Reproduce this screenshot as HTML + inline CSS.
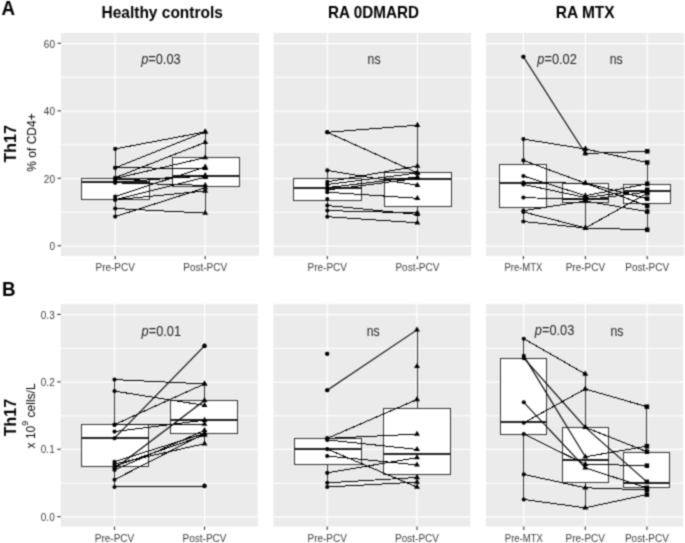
<!DOCTYPE html>
<html><head><meta charset="utf-8"><style>
html,body{margin:0;padding:0;background:#fff;width:685px;height:543px;overflow:hidden}
</style></head><body>
<svg width="685" height="543" viewBox="0 0 685 543" style="display:block">
<defs><filter id="bl" x="0" y="0" width="685" height="543" filterUnits="userSpaceOnUse" color-interpolation-filters="sRGB"><feConvolveMatrix order="3" kernelMatrix="0.0400 0.1200 0.0400 0.1200 0.3600 0.1200 0.0400 0.1200 0.0400" edgeMode="duplicate" preserveAlpha="true"/></filter></defs><g filter="url(#bl)">
<rect x="0" y="0" width="685" height="543" fill="#fff"/>
<rect x="61.0" y="33.0" width="197.90" height="222.90" fill="#EBEBEB"/>
<line x1="61.0" x2="258.9" y1="212.25" y2="212.25" stroke="#fff" stroke-width="1.0"/>
<line x1="61.0" x2="258.9" y1="144.75" y2="144.75" stroke="#fff" stroke-width="1.0"/>
<line x1="61.0" x2="258.9" y1="77.25" y2="77.25" stroke="#fff" stroke-width="1.0"/>
<line x1="61.0" x2="258.9" y1="246.00" y2="246.00" stroke="#fff" stroke-width="1.25"/>
<line x1="61.0" x2="258.9" y1="178.50" y2="178.50" stroke="#fff" stroke-width="1.25"/>
<line x1="61.0" x2="258.9" y1="111.00" y2="111.00" stroke="#fff" stroke-width="1.25"/>
<line x1="61.0" x2="258.9" y1="43.50" y2="43.50" stroke="#fff" stroke-width="1.25"/>
<line x1="115.2" x2="115.2" y1="33.0" y2="255.9" stroke="#fff" stroke-width="1.25"/>
<line x1="205.2" x2="205.2" y1="33.0" y2="255.9" stroke="#fff" stroke-width="1.25"/>
<line x1="115.2" x2="115.2" y1="255.9" y2="259.20" stroke="#333" stroke-width="1.1"/>
<line x1="205.2" x2="205.2" y1="255.9" y2="259.20" stroke="#333" stroke-width="1.1"/>
<text x="115.2" y="271.30" text-anchor="middle" font-family='"Liberation Sans", sans-serif' font-size="10" fill="#3C3C3C">Pre-PCV</text>
<text x="205.2" y="271.30" text-anchor="middle" font-family='"Liberation Sans", sans-serif' font-size="10" fill="#3C3C3C">Post-PCV</text>
<rect x="273.6" y="33.0" width="197.50" height="222.90" fill="#EBEBEB"/>
<line x1="273.6" x2="471.1" y1="212.25" y2="212.25" stroke="#fff" stroke-width="1.0"/>
<line x1="273.6" x2="471.1" y1="144.75" y2="144.75" stroke="#fff" stroke-width="1.0"/>
<line x1="273.6" x2="471.1" y1="77.25" y2="77.25" stroke="#fff" stroke-width="1.0"/>
<line x1="273.6" x2="471.1" y1="246.00" y2="246.00" stroke="#fff" stroke-width="1.25"/>
<line x1="273.6" x2="471.1" y1="178.50" y2="178.50" stroke="#fff" stroke-width="1.25"/>
<line x1="273.6" x2="471.1" y1="111.00" y2="111.00" stroke="#fff" stroke-width="1.25"/>
<line x1="273.6" x2="471.1" y1="43.50" y2="43.50" stroke="#fff" stroke-width="1.25"/>
<line x1="327.3" x2="327.3" y1="33.0" y2="255.9" stroke="#fff" stroke-width="1.25"/>
<line x1="417.4" x2="417.4" y1="33.0" y2="255.9" stroke="#fff" stroke-width="1.25"/>
<line x1="327.3" x2="327.3" y1="255.9" y2="259.20" stroke="#333" stroke-width="1.1"/>
<line x1="417.4" x2="417.4" y1="255.9" y2="259.20" stroke="#333" stroke-width="1.1"/>
<text x="327.3" y="271.30" text-anchor="middle" font-family='"Liberation Sans", sans-serif' font-size="10" fill="#3C3C3C">Pre-PCV</text>
<text x="417.4" y="271.30" text-anchor="middle" font-family='"Liberation Sans", sans-serif' font-size="10" fill="#3C3C3C">Post-PCV</text>
<rect x="485.9" y="33.0" width="198.20" height="222.90" fill="#EBEBEB"/>
<line x1="485.9" x2="684.1" y1="212.25" y2="212.25" stroke="#fff" stroke-width="1.0"/>
<line x1="485.9" x2="684.1" y1="144.75" y2="144.75" stroke="#fff" stroke-width="1.0"/>
<line x1="485.9" x2="684.1" y1="77.25" y2="77.25" stroke="#fff" stroke-width="1.0"/>
<line x1="485.9" x2="684.1" y1="246.00" y2="246.00" stroke="#fff" stroke-width="1.25"/>
<line x1="485.9" x2="684.1" y1="178.50" y2="178.50" stroke="#fff" stroke-width="1.25"/>
<line x1="485.9" x2="684.1" y1="111.00" y2="111.00" stroke="#fff" stroke-width="1.25"/>
<line x1="485.9" x2="684.1" y1="43.50" y2="43.50" stroke="#fff" stroke-width="1.25"/>
<line x1="523.4" x2="523.4" y1="33.0" y2="255.9" stroke="#fff" stroke-width="1.25"/>
<line x1="585.4" x2="585.4" y1="33.0" y2="255.9" stroke="#fff" stroke-width="1.25"/>
<line x1="647.2" x2="647.2" y1="33.0" y2="255.9" stroke="#fff" stroke-width="1.25"/>
<line x1="523.4" x2="523.4" y1="255.9" y2="259.20" stroke="#333" stroke-width="1.1"/>
<line x1="585.4" x2="585.4" y1="255.9" y2="259.20" stroke="#333" stroke-width="1.1"/>
<line x1="647.2" x2="647.2" y1="255.9" y2="259.20" stroke="#333" stroke-width="1.1"/>
<text x="523.4" y="271.30" text-anchor="middle" font-family='"Liberation Sans", sans-serif' font-size="10" fill="#3C3C3C" textLength="38.0" lengthAdjust="spacingAndGlyphs">Pre-MTX</text>
<text x="585.4" y="271.30" text-anchor="middle" font-family='"Liberation Sans", sans-serif' font-size="10" fill="#3C3C3C">Pre-PCV</text>
<text x="647.2" y="271.30" text-anchor="middle" font-family='"Liberation Sans", sans-serif' font-size="10" fill="#3C3C3C">Post-PCV</text>
<line x1="57.50" x2="61.0" y1="245.80" y2="245.80" stroke="#333" stroke-width="1.1"/>
<text transform="translate(55.00,250.00) scale(1,1.06)" text-anchor="end" font-family='"Liberation Sans", sans-serif' font-size="10" fill="#3C3C3C">0</text>
<line x1="57.50" x2="61.0" y1="178.30" y2="178.30" stroke="#333" stroke-width="1.1"/>
<text transform="translate(55.00,182.50) scale(1,1.06)" text-anchor="end" font-family='"Liberation Sans", sans-serif' font-size="10" fill="#3C3C3C">20</text>
<line x1="57.50" x2="61.0" y1="110.80" y2="110.80" stroke="#333" stroke-width="1.1"/>
<text transform="translate(55.00,115.00) scale(1,1.06)" text-anchor="end" font-family='"Liberation Sans", sans-serif' font-size="10" fill="#3C3C3C">40</text>
<line x1="57.50" x2="61.0" y1="43.30" y2="43.30" stroke="#333" stroke-width="1.1"/>
<text transform="translate(55.00,47.50) scale(1,1.06)" text-anchor="end" font-family='"Liberation Sans", sans-serif' font-size="10" fill="#3C3C3C">60</text>
<rect x="60.7" y="304.1" width="196.90" height="222.50" fill="#EBEBEB"/>
<line x1="60.7" x2="257.6" y1="483.19" y2="483.19" stroke="#fff" stroke-width="1.0"/>
<line x1="60.7" x2="257.6" y1="415.77" y2="415.77" stroke="#fff" stroke-width="1.0"/>
<line x1="60.7" x2="257.6" y1="348.35" y2="348.35" stroke="#fff" stroke-width="1.0"/>
<line x1="60.7" x2="257.6" y1="516.90" y2="516.90" stroke="#fff" stroke-width="1.25"/>
<line x1="60.7" x2="257.6" y1="449.48" y2="449.48" stroke="#fff" stroke-width="1.25"/>
<line x1="60.7" x2="257.6" y1="382.06" y2="382.06" stroke="#fff" stroke-width="1.25"/>
<line x1="60.7" x2="257.6" y1="314.64" y2="314.64" stroke="#fff" stroke-width="1.25"/>
<line x1="114.5" x2="114.5" y1="304.1" y2="526.6" stroke="#fff" stroke-width="1.25"/>
<line x1="204.5" x2="204.5" y1="304.1" y2="526.6" stroke="#fff" stroke-width="1.25"/>
<line x1="114.5" x2="114.5" y1="526.6" y2="529.90" stroke="#333" stroke-width="1.1"/>
<line x1="204.5" x2="204.5" y1="526.6" y2="529.90" stroke="#333" stroke-width="1.1"/>
<text x="114.5" y="542.00" text-anchor="middle" font-family='"Liberation Sans", sans-serif' font-size="10" fill="#3C3C3C">Pre-PCV</text>
<text x="204.5" y="542.00" text-anchor="middle" font-family='"Liberation Sans", sans-serif' font-size="10" fill="#3C3C3C">Post-PCV</text>
<rect x="273.4" y="304.1" width="197.00" height="222.50" fill="#EBEBEB"/>
<line x1="273.4" x2="470.4" y1="483.19" y2="483.19" stroke="#fff" stroke-width="1.0"/>
<line x1="273.4" x2="470.4" y1="415.77" y2="415.77" stroke="#fff" stroke-width="1.0"/>
<line x1="273.4" x2="470.4" y1="348.35" y2="348.35" stroke="#fff" stroke-width="1.0"/>
<line x1="273.4" x2="470.4" y1="516.90" y2="516.90" stroke="#fff" stroke-width="1.25"/>
<line x1="273.4" x2="470.4" y1="449.48" y2="449.48" stroke="#fff" stroke-width="1.25"/>
<line x1="273.4" x2="470.4" y1="382.06" y2="382.06" stroke="#fff" stroke-width="1.25"/>
<line x1="273.4" x2="470.4" y1="314.64" y2="314.64" stroke="#fff" stroke-width="1.25"/>
<line x1="327.2" x2="327.2" y1="304.1" y2="526.6" stroke="#fff" stroke-width="1.25"/>
<line x1="417.0" x2="417.0" y1="304.1" y2="526.6" stroke="#fff" stroke-width="1.25"/>
<line x1="327.2" x2="327.2" y1="526.6" y2="529.90" stroke="#333" stroke-width="1.1"/>
<line x1="417.0" x2="417.0" y1="526.6" y2="529.90" stroke="#333" stroke-width="1.1"/>
<text x="327.2" y="542.00" text-anchor="middle" font-family='"Liberation Sans", sans-serif' font-size="10" fill="#3C3C3C">Pre-PCV</text>
<text x="417.0" y="542.00" text-anchor="middle" font-family='"Liberation Sans", sans-serif' font-size="10" fill="#3C3C3C">Post-PCV</text>
<rect x="486.0" y="304.1" width="196.90" height="222.50" fill="#EBEBEB"/>
<line x1="486.0" x2="682.9" y1="483.19" y2="483.19" stroke="#fff" stroke-width="1.0"/>
<line x1="486.0" x2="682.9" y1="415.77" y2="415.77" stroke="#fff" stroke-width="1.0"/>
<line x1="486.0" x2="682.9" y1="348.35" y2="348.35" stroke="#fff" stroke-width="1.0"/>
<line x1="486.0" x2="682.9" y1="516.90" y2="516.90" stroke="#fff" stroke-width="1.25"/>
<line x1="486.0" x2="682.9" y1="449.48" y2="449.48" stroke="#fff" stroke-width="1.25"/>
<line x1="486.0" x2="682.9" y1="382.06" y2="382.06" stroke="#fff" stroke-width="1.25"/>
<line x1="486.0" x2="682.9" y1="314.64" y2="314.64" stroke="#fff" stroke-width="1.25"/>
<line x1="523.8" x2="523.8" y1="304.1" y2="526.6" stroke="#fff" stroke-width="1.25"/>
<line x1="585.3" x2="585.3" y1="304.1" y2="526.6" stroke="#fff" stroke-width="1.25"/>
<line x1="646.9" x2="646.9" y1="304.1" y2="526.6" stroke="#fff" stroke-width="1.25"/>
<line x1="523.8" x2="523.8" y1="526.6" y2="529.90" stroke="#333" stroke-width="1.1"/>
<line x1="585.3" x2="585.3" y1="526.6" y2="529.90" stroke="#333" stroke-width="1.1"/>
<line x1="646.9" x2="646.9" y1="526.6" y2="529.90" stroke="#333" stroke-width="1.1"/>
<text x="523.8" y="542.00" text-anchor="middle" font-family='"Liberation Sans", sans-serif' font-size="10" fill="#3C3C3C" textLength="38.0" lengthAdjust="spacingAndGlyphs">Pre-MTX</text>
<text x="585.3" y="542.00" text-anchor="middle" font-family='"Liberation Sans", sans-serif' font-size="10" fill="#3C3C3C">Pre-PCV</text>
<text x="646.9" y="542.00" text-anchor="middle" font-family='"Liberation Sans", sans-serif' font-size="10" fill="#3C3C3C">Post-PCV</text>
<line x1="57.20" x2="60.7" y1="516.70" y2="516.70" stroke="#333" stroke-width="1.1"/>
<text transform="translate(54.70,520.90) scale(1,1.06)" text-anchor="end" font-family='"Liberation Sans", sans-serif' font-size="10" fill="#3C3C3C">0.0</text>
<line x1="57.20" x2="60.7" y1="449.28" y2="449.28" stroke="#333" stroke-width="1.1"/>
<text transform="translate(54.70,453.48) scale(1,1.06)" text-anchor="end" font-family='"Liberation Sans", sans-serif' font-size="10" fill="#3C3C3C">0.1</text>
<line x1="57.20" x2="60.7" y1="381.86" y2="381.86" stroke="#333" stroke-width="1.1"/>
<text transform="translate(54.70,386.06) scale(1,1.06)" text-anchor="end" font-family='"Liberation Sans", sans-serif' font-size="10" fill="#3C3C3C">0.2</text>
<line x1="57.20" x2="60.7" y1="314.44" y2="314.44" stroke="#333" stroke-width="1.1"/>
<text transform="translate(54.70,318.64) scale(1,1.06)" text-anchor="end" font-family='"Liberation Sans", sans-serif' font-size="10" fill="#3C3C3C">0.3</text>
<line x1="115.2" x2="115.2" y1="148.9" y2="178.0" stroke="#333" stroke-width="1.0" shape-rendering="crispEdges"/>
<line x1="115.2" x2="115.2" y1="199.4" y2="216.6" stroke="#333" stroke-width="1.0" shape-rendering="crispEdges"/>
<rect x="81.50" y="178.0" width="68.00" height="21.40" fill="#fff" stroke="#333" stroke-width="1.0" shape-rendering="crispEdges"/>
<line x1="81.50" x2="149.50" y1="182.1" y2="182.1" stroke="#222" stroke-width="2.0" shape-rendering="crispEdges"/>
<line x1="205.2" x2="205.2" y1="131.9" y2="157.6" stroke="#333" stroke-width="1.0" shape-rendering="crispEdges"/>
<line x1="205.2" x2="205.2" y1="186.3" y2="213.1" stroke="#333" stroke-width="1.0" shape-rendering="crispEdges"/>
<rect x="172.00" y="157.6" width="67.50" height="28.70" fill="#fff" stroke="#333" stroke-width="1.0" shape-rendering="crispEdges"/>
<line x1="172.00" x2="239.50" y1="175.5" y2="175.5" stroke="#222" stroke-width="2.0" shape-rendering="crispEdges"/>
<path d="M115.20 148.90L205.20 131.90" fill="none" stroke="#000" stroke-width="1.0" shape-rendering="crispEdges"/>
<path d="M115.20 167.80L205.20 131.90" fill="none" stroke="#000" stroke-width="1.0" shape-rendering="crispEdges"/>
<path d="M115.20 167.80L205.20 168.30" fill="none" stroke="#000" stroke-width="1.0" shape-rendering="crispEdges"/>
<path d="M115.20 177.70L205.20 142.40" fill="none" stroke="#000" stroke-width="1.0" shape-rendering="crispEdges"/>
<path d="M115.20 178.50L205.20 157.60" fill="none" stroke="#000" stroke-width="1.0" shape-rendering="crispEdges"/>
<path d="M115.20 180.00L205.20 176.40" fill="none" stroke="#000" stroke-width="1.0" shape-rendering="crispEdges"/>
<path d="M115.20 182.50L205.20 175.50" fill="none" stroke="#000" stroke-width="1.0" shape-rendering="crispEdges"/>
<path d="M115.20 182.80L205.20 185.40" fill="none" stroke="#000" stroke-width="1.0" shape-rendering="crispEdges"/>
<path d="M115.20 196.50L205.20 167.00" fill="none" stroke="#000" stroke-width="1.0" shape-rendering="crispEdges"/>
<path d="M115.20 199.70L205.20 177.20" fill="none" stroke="#000" stroke-width="1.0" shape-rendering="crispEdges"/>
<path d="M115.20 199.70L205.20 191.00" fill="none" stroke="#000" stroke-width="1.0" shape-rendering="crispEdges"/>
<path d="M115.20 208.50L205.20 213.10" fill="none" stroke="#000" stroke-width="1.0" shape-rendering="crispEdges"/>
<path d="M115.20 216.60L205.20 187.80" fill="none" stroke="#000" stroke-width="1.0" shape-rendering="crispEdges"/>
<circle cx="115.20" cy="148.90" r="2.05" fill="#000"/>
<path d="M205.20 128.50L208.14 133.60L202.26 133.60Z" fill="#000"/>
<circle cx="115.20" cy="167.80" r="2.05" fill="#000"/>
<path d="M205.20 128.50L208.14 133.60L202.26 133.60Z" fill="#000"/>
<circle cx="115.20" cy="167.80" r="2.05" fill="#000"/>
<path d="M205.20 164.90L208.14 170.00L202.26 170.00Z" fill="#000"/>
<circle cx="115.20" cy="177.70" r="2.05" fill="#000"/>
<path d="M205.20 139.00L208.14 144.10L202.26 144.10Z" fill="#000"/>
<circle cx="115.20" cy="178.50" r="2.05" fill="#000"/>
<path d="M205.20 154.20L208.14 159.30L202.26 159.30Z" fill="#000"/>
<circle cx="115.20" cy="180.00" r="2.05" fill="#000"/>
<path d="M205.20 173.00L208.14 178.10L202.26 178.10Z" fill="#000"/>
<circle cx="115.20" cy="182.50" r="2.05" fill="#000"/>
<path d="M205.20 172.10L208.14 177.20L202.26 177.20Z" fill="#000"/>
<circle cx="115.20" cy="182.80" r="2.05" fill="#000"/>
<path d="M205.20 182.00L208.14 187.10L202.26 187.10Z" fill="#000"/>
<circle cx="115.20" cy="196.50" r="2.05" fill="#000"/>
<path d="M205.20 163.60L208.14 168.70L202.26 168.70Z" fill="#000"/>
<circle cx="115.20" cy="199.70" r="2.05" fill="#000"/>
<path d="M205.20 173.80L208.14 178.90L202.26 178.90Z" fill="#000"/>
<circle cx="115.20" cy="199.70" r="2.05" fill="#000"/>
<path d="M205.20 187.60L208.14 192.70L202.26 192.70Z" fill="#000"/>
<circle cx="115.20" cy="208.50" r="2.05" fill="#000"/>
<path d="M205.20 209.70L208.14 214.80L202.26 214.80Z" fill="#000"/>
<circle cx="115.20" cy="216.60" r="2.05" fill="#000"/>
<path d="M205.20 184.40L208.14 189.50L202.26 189.50Z" fill="#000"/>
<line x1="327.3" x2="327.3" y1="170.5" y2="178.8" stroke="#333" stroke-width="1.0" shape-rendering="crispEdges"/>
<line x1="327.3" x2="327.3" y1="200.5" y2="216.8" stroke="#333" stroke-width="1.0" shape-rendering="crispEdges"/>
<rect x="293.50" y="178.8" width="68.00" height="21.70" fill="#fff" stroke="#333" stroke-width="1.0" shape-rendering="crispEdges"/>
<line x1="293.50" x2="361.50" y1="187.9" y2="187.9" stroke="#222" stroke-width="2.0" shape-rendering="crispEdges"/>
<line x1="417.4" x2="417.4" y1="125.2" y2="172.6" stroke="#333" stroke-width="1.0" shape-rendering="crispEdges"/>
<line x1="417.4" x2="417.4" y1="206.1" y2="223.4" stroke="#333" stroke-width="1.0" shape-rendering="crispEdges"/>
<rect x="384.00" y="172.6" width="67.00" height="33.50" fill="#fff" stroke="#333" stroke-width="1.0" shape-rendering="crispEdges"/>
<line x1="384.00" x2="451.00" y1="178.5" y2="178.5" stroke="#222" stroke-width="2.0" shape-rendering="crispEdges"/>
<circle cx="327.30" cy="132.30" r="2.05" fill="#000"/>
<path d="M327.30 132.30L417.40 125.20" fill="none" stroke="#000" stroke-width="1.0" shape-rendering="crispEdges"/>
<path d="M327.30 132.30L417.40 172.80" fill="none" stroke="#000" stroke-width="1.0" shape-rendering="crispEdges"/>
<path d="M327.30 170.40L417.40 185.30" fill="none" stroke="#000" stroke-width="1.0" shape-rendering="crispEdges"/>
<path d="M327.30 181.90L417.40 166.10" fill="none" stroke="#000" stroke-width="1.0" shape-rendering="crispEdges"/>
<path d="M327.30 184.50L417.40 173.00" fill="none" stroke="#000" stroke-width="1.0" shape-rendering="crispEdges"/>
<path d="M327.30 187.60L417.40 176.90" fill="none" stroke="#000" stroke-width="1.0" shape-rendering="crispEdges"/>
<path d="M327.30 190.00L417.40 178.40" fill="none" stroke="#000" stroke-width="1.0" shape-rendering="crispEdges"/>
<path d="M327.30 192.20L417.40 198.30" fill="none" stroke="#000" stroke-width="1.0" shape-rendering="crispEdges"/>
<path d="M327.30 205.50L417.40 214.40" fill="none" stroke="#000" stroke-width="1.0" shape-rendering="crispEdges"/>
<path d="M327.30 210.60L417.40 212.90" fill="none" stroke="#000" stroke-width="1.0" shape-rendering="crispEdges"/>
<path d="M327.30 216.70L417.40 222.80" fill="none" stroke="#000" stroke-width="1.0" shape-rendering="crispEdges"/>
<circle cx="327.30" cy="132.30" r="2.05" fill="#000"/>
<path d="M417.40 121.80L420.34 126.90L414.46 126.90Z" fill="#000"/>
<circle cx="327.30" cy="132.30" r="2.05" fill="#000"/>
<path d="M417.40 169.40L420.34 174.50L414.46 174.50Z" fill="#000"/>
<circle cx="327.30" cy="170.40" r="2.05" fill="#000"/>
<path d="M417.40 181.90L420.34 187.00L414.46 187.00Z" fill="#000"/>
<circle cx="327.30" cy="181.90" r="2.05" fill="#000"/>
<path d="M417.40 162.70L420.34 167.80L414.46 167.80Z" fill="#000"/>
<circle cx="327.30" cy="184.50" r="2.05" fill="#000"/>
<path d="M417.40 169.60L420.34 174.70L414.46 174.70Z" fill="#000"/>
<circle cx="327.30" cy="187.60" r="2.05" fill="#000"/>
<path d="M417.40 173.50L420.34 178.60L414.46 178.60Z" fill="#000"/>
<circle cx="327.30" cy="190.00" r="2.05" fill="#000"/>
<path d="M417.40 175.00L420.34 180.10L414.46 180.10Z" fill="#000"/>
<circle cx="327.30" cy="192.20" r="2.05" fill="#000"/>
<path d="M417.40 194.90L420.34 200.00L414.46 200.00Z" fill="#000"/>
<circle cx="327.30" cy="199.10" r="2.05" fill="#000"/>
<circle cx="327.30" cy="205.50" r="2.05" fill="#000"/>
<path d="M417.40 211.00L420.34 216.10L414.46 216.10Z" fill="#000"/>
<circle cx="327.30" cy="210.60" r="2.05" fill="#000"/>
<path d="M417.40 209.50L420.34 214.60L414.46 214.60Z" fill="#000"/>
<circle cx="327.30" cy="216.70" r="2.05" fill="#000"/>
<path d="M417.40 219.40L420.34 224.50L414.46 224.50Z" fill="#000"/>
<line x1="523.4" x2="523.4" y1="139.1" y2="164.4" stroke="#333" stroke-width="1.0" shape-rendering="crispEdges"/>
<line x1="523.4" x2="523.4" y1="207.8" y2="221.5" stroke="#333" stroke-width="1.0" shape-rendering="crispEdges"/>
<rect x="499.50" y="164.4" width="47.00" height="43.40" fill="#fff" stroke="#333" stroke-width="1.0" shape-rendering="crispEdges"/>
<line x1="499.50" x2="546.50" y1="183.2" y2="183.2" stroke="#222" stroke-width="2.0" shape-rendering="crispEdges"/>
<line x1="585.4" x2="585.4" y1="182.6" y2="183.7" stroke="#333" stroke-width="1.0" shape-rendering="crispEdges"/>
<line x1="585.4" x2="585.4" y1="202.5" y2="227.6" stroke="#333" stroke-width="1.0" shape-rendering="crispEdges"/>
<rect x="562.00" y="183.7" width="46.50" height="18.80" fill="#fff" stroke="#333" stroke-width="1.0" shape-rendering="crispEdges"/>
<line x1="562.00" x2="608.50" y1="198.6" y2="198.6" stroke="#222" stroke-width="2.0" shape-rendering="crispEdges"/>
<line x1="647.2" x2="647.2" y1="162.5" y2="184.5" stroke="#333" stroke-width="1.0" shape-rendering="crispEdges"/>
<line x1="647.2" x2="647.2" y1="203.0" y2="229.5" stroke="#333" stroke-width="1.0" shape-rendering="crispEdges"/>
<rect x="623.50" y="184.5" width="47.00" height="18.50" fill="#fff" stroke="#333" stroke-width="1.0" shape-rendering="crispEdges"/>
<line x1="623.50" x2="670.50" y1="191.1" y2="191.1" stroke="#222" stroke-width="2.0" shape-rendering="crispEdges"/>
<circle cx="523.40" cy="56.80" r="2.05" fill="#000"/>
<circle cx="585.40" cy="149.00" r="2.05" fill="#000"/>
<circle cx="585.40" cy="153.50" r="2.05" fill="#000"/>
<circle cx="647.20" cy="151.30" r="2.05" fill="#000"/>
<path d="M523.40 56.80L585.40 153.50" fill="none" stroke="#000" stroke-width="1.1"/>
<path d="M585.40 153.50L647.20 151.30" fill="none" stroke="#000" stroke-width="1.0" shape-rendering="crispEdges"/>
<path d="M523.40 139.10L585.40 149.00" fill="none" stroke="#000" stroke-width="1.0" shape-rendering="crispEdges"/>
<path d="M585.40 149.00L647.20 162.50" fill="none" stroke="#000" stroke-width="1.0" shape-rendering="crispEdges"/>
<path d="M523.40 160.40L585.40 183.20" fill="none" stroke="#000" stroke-width="1.0" shape-rendering="crispEdges"/>
<path d="M585.40 183.20L647.20 205.90" fill="none" stroke="#000" stroke-width="1.0" shape-rendering="crispEdges"/>
<path d="M523.40 176.00L585.40 195.70" fill="none" stroke="#000" stroke-width="1.0" shape-rendering="crispEdges"/>
<path d="M585.40 195.70L647.20 183.80" fill="none" stroke="#000" stroke-width="1.0" shape-rendering="crispEdges"/>
<path d="M523.40 182.60L585.40 183.20" fill="none" stroke="#000" stroke-width="1.0" shape-rendering="crispEdges"/>
<path d="M585.40 183.20L647.20 198.70" fill="none" stroke="#000" stroke-width="1.0" shape-rendering="crispEdges"/>
<path d="M523.40 184.40L585.40 197.50" fill="none" stroke="#000" stroke-width="1.0" shape-rendering="crispEdges"/>
<path d="M585.40 197.50L647.20 189.70" fill="none" stroke="#000" stroke-width="1.0" shape-rendering="crispEdges"/>
<path d="M523.40 197.50L585.40 199.90" fill="none" stroke="#000" stroke-width="1.0" shape-rendering="crispEdges"/>
<path d="M585.40 199.90L647.20 192.10" fill="none" stroke="#000" stroke-width="1.0" shape-rendering="crispEdges"/>
<path d="M523.40 210.70L585.40 201.00" fill="none" stroke="#000" stroke-width="1.0" shape-rendering="crispEdges"/>
<path d="M585.40 201.00L647.20 211.60" fill="none" stroke="#000" stroke-width="1.0" shape-rendering="crispEdges"/>
<path d="M523.40 211.90L585.40 228.00" fill="none" stroke="#000" stroke-width="1.0" shape-rendering="crispEdges"/>
<path d="M585.40 228.00L647.20 193.30" fill="none" stroke="#000" stroke-width="1.0" shape-rendering="crispEdges"/>
<path d="M523.40 221.50L585.40 228.00" fill="none" stroke="#000" stroke-width="1.0" shape-rendering="crispEdges"/>
<path d="M585.40 228.00L647.20 229.80" fill="none" stroke="#000" stroke-width="1.0" shape-rendering="crispEdges"/>
<circle cx="523.40" cy="56.80" r="2.05" fill="#000"/>
<path d="M585.40 150.10L588.34 155.20L582.46 155.20Z" fill="#000"/>
<rect x="644.95" y="149.05" width="4.5" height="4.5" fill="#000"/>
<circle cx="523.40" cy="139.10" r="2.05" fill="#000"/>
<path d="M585.40 145.60L588.34 150.70L582.46 150.70Z" fill="#000"/>
<rect x="644.95" y="160.25" width="4.5" height="4.5" fill="#000"/>
<circle cx="523.40" cy="160.40" r="2.05" fill="#000"/>
<path d="M585.40 179.80L588.34 184.90L582.46 184.90Z" fill="#000"/>
<rect x="644.95" y="203.65" width="4.5" height="4.5" fill="#000"/>
<circle cx="523.40" cy="176.00" r="2.05" fill="#000"/>
<path d="M585.40 192.30L588.34 197.40L582.46 197.40Z" fill="#000"/>
<rect x="644.95" y="181.55" width="4.5" height="4.5" fill="#000"/>
<circle cx="523.40" cy="182.60" r="2.05" fill="#000"/>
<path d="M585.40 179.80L588.34 184.90L582.46 184.90Z" fill="#000"/>
<rect x="644.95" y="196.45" width="4.5" height="4.5" fill="#000"/>
<circle cx="523.40" cy="184.40" r="2.05" fill="#000"/>
<path d="M585.40 194.10L588.34 199.20L582.46 199.20Z" fill="#000"/>
<rect x="644.95" y="187.45" width="4.5" height="4.5" fill="#000"/>
<circle cx="523.40" cy="197.50" r="2.05" fill="#000"/>
<path d="M585.40 196.50L588.34 201.60L582.46 201.60Z" fill="#000"/>
<rect x="644.95" y="189.85" width="4.5" height="4.5" fill="#000"/>
<circle cx="523.40" cy="210.70" r="2.05" fill="#000"/>
<path d="M585.40 197.60L588.34 202.70L582.46 202.70Z" fill="#000"/>
<rect x="644.95" y="209.35" width="4.5" height="4.5" fill="#000"/>
<circle cx="523.40" cy="211.90" r="2.05" fill="#000"/>
<path d="M585.40 224.60L588.34 229.70L582.46 229.70Z" fill="#000"/>
<rect x="644.95" y="191.05" width="4.5" height="4.5" fill="#000"/>
<circle cx="523.40" cy="221.50" r="2.05" fill="#000"/>
<path d="M585.40 224.60L588.34 229.70L582.46 229.70Z" fill="#000"/>
<rect x="644.95" y="227.55" width="4.5" height="4.5" fill="#000"/>
<line x1="114.5" x2="114.5" y1="379.6" y2="424.6" stroke="#333" stroke-width="1.0" shape-rendering="crispEdges"/>
<line x1="114.5" x2="114.5" y1="466.9" y2="487.0" stroke="#333" stroke-width="1.0" shape-rendering="crispEdges"/>
<rect x="81.50" y="424.6" width="67.00" height="42.30" fill="#fff" stroke="#333" stroke-width="1.0" shape-rendering="crispEdges"/>
<line x1="81.50" x2="148.50" y1="437.7" y2="437.7" stroke="#222" stroke-width="2.0" shape-rendering="crispEdges"/>
<line x1="204.5" x2="204.5" y1="383.8" y2="400.5" stroke="#333" stroke-width="1.0" shape-rendering="crispEdges"/>
<line x1="204.5" x2="204.5" y1="433.0" y2="444.2" stroke="#333" stroke-width="1.0" shape-rendering="crispEdges"/>
<rect x="170.50" y="400.5" width="67.00" height="32.50" fill="#fff" stroke="#333" stroke-width="1.0" shape-rendering="crispEdges"/>
<line x1="170.50" x2="237.50" y1="420.0" y2="420.0" stroke="#222" stroke-width="2.0" shape-rendering="crispEdges"/>
<circle cx="204.50" cy="345.90" r="2.05" fill="#000"/>
<circle cx="204.50" cy="486.00" r="2.05" fill="#000"/>
<path d="M114.50 379.60L204.50 383.90" fill="none" stroke="#000" stroke-width="1.0" shape-rendering="crispEdges"/>
<path d="M114.50 391.10L204.50 405.40" fill="none" stroke="#000" stroke-width="1.0" shape-rendering="crispEdges"/>
<path d="M114.50 424.60L204.50 383.90" fill="none" stroke="#000" stroke-width="1.0" shape-rendering="crispEdges"/>
<path d="M114.50 424.90L204.50 424.10" fill="none" stroke="#000" stroke-width="1.0" shape-rendering="crispEdges"/>
<path d="M114.50 431.60L204.50 420.20" fill="none" stroke="#000" stroke-width="1.0" shape-rendering="crispEdges"/>
<path d="M114.50 438.20L204.50 345.90" fill="none" stroke="#000" stroke-width="1.1"/>
<path d="M114.50 461.70L204.50 433.50" fill="none" stroke="#000" stroke-width="1.0" shape-rendering="crispEdges"/>
<path d="M114.50 464.00L204.50 443.70" fill="none" stroke="#000" stroke-width="1.0" shape-rendering="crispEdges"/>
<path d="M114.50 466.40L204.50 435.10" fill="none" stroke="#000" stroke-width="1.0" shape-rendering="crispEdges"/>
<path d="M114.50 468.70L204.50 400.50" fill="none" stroke="#000" stroke-width="1.1"/>
<path d="M114.50 470.00L204.50 430.40" fill="none" stroke="#000" stroke-width="1.0" shape-rendering="crispEdges"/>
<path d="M114.50 479.70L204.50 433.50" fill="none" stroke="#000" stroke-width="1.0" shape-rendering="crispEdges"/>
<path d="M114.50 487.00L204.50 486.00" fill="none" stroke="#000" stroke-width="1.0" shape-rendering="crispEdges"/>
<circle cx="114.50" cy="379.60" r="2.05" fill="#000"/>
<path d="M204.50 380.50L207.44 385.60L201.56 385.60Z" fill="#000"/>
<circle cx="114.50" cy="391.10" r="2.05" fill="#000"/>
<path d="M204.50 402.00L207.44 407.10L201.56 407.10Z" fill="#000"/>
<circle cx="114.50" cy="424.60" r="2.05" fill="#000"/>
<path d="M204.50 380.50L207.44 385.60L201.56 385.60Z" fill="#000"/>
<circle cx="114.50" cy="424.90" r="2.05" fill="#000"/>
<path d="M204.50 420.70L207.44 425.80L201.56 425.80Z" fill="#000"/>
<circle cx="114.50" cy="431.60" r="2.05" fill="#000"/>
<path d="M204.50 416.80L207.44 421.90L201.56 421.90Z" fill="#000"/>
<circle cx="114.50" cy="438.20" r="2.05" fill="#000"/>
<circle cx="204.50" cy="345.90" r="2.2" fill="#000"/>
<path d="M204.50 342.90L206.10 345.10L202.90 345.10Z" fill="#000"/>
<circle cx="114.50" cy="461.70" r="2.05" fill="#000"/>
<path d="M204.50 430.10L207.44 435.20L201.56 435.20Z" fill="#000"/>
<circle cx="114.50" cy="464.00" r="2.05" fill="#000"/>
<path d="M204.50 440.30L207.44 445.40L201.56 445.40Z" fill="#000"/>
<circle cx="114.50" cy="466.40" r="2.05" fill="#000"/>
<path d="M204.50 431.70L207.44 436.80L201.56 436.80Z" fill="#000"/>
<circle cx="114.50" cy="468.70" r="2.05" fill="#000"/>
<path d="M204.50 397.10L207.44 402.20L201.56 402.20Z" fill="#000"/>
<circle cx="114.50" cy="470.00" r="2.05" fill="#000"/>
<path d="M204.50 427.00L207.44 432.10L201.56 432.10Z" fill="#000"/>
<circle cx="114.50" cy="479.70" r="2.05" fill="#000"/>
<path d="M204.50 430.10L207.44 435.20L201.56 435.20Z" fill="#000"/>
<circle cx="114.50" cy="487.00" r="2.05" fill="#000"/>
<circle cx="204.50" cy="486.00" r="2.2" fill="#000"/>
<path d="M204.50 483.00L206.10 485.20L202.90 485.20Z" fill="#000"/>
<line x1="327.2" x2="327.2" y1="464.0" y2="487.0" stroke="#333" stroke-width="1.0" shape-rendering="crispEdges"/>
<rect x="294.00" y="438.1" width="67.50" height="25.90" fill="#fff" stroke="#333" stroke-width="1.0" shape-rendering="crispEdges"/>
<line x1="294.00" x2="361.50" y1="448.8" y2="448.8" stroke="#222" stroke-width="2.0" shape-rendering="crispEdges"/>
<line x1="417.0" x2="417.0" y1="329.9" y2="408.5" stroke="#333" stroke-width="1.0" shape-rendering="crispEdges"/>
<line x1="417.0" x2="417.0" y1="474.0" y2="487.4" stroke="#333" stroke-width="1.0" shape-rendering="crispEdges"/>
<rect x="383.50" y="408.5" width="66.50" height="65.50" fill="#fff" stroke="#333" stroke-width="1.0" shape-rendering="crispEdges"/>
<line x1="383.50" x2="450.00" y1="453.7" y2="453.7" stroke="#222" stroke-width="2.0" shape-rendering="crispEdges"/>
<circle cx="327.20" cy="353.80" r="2.05" fill="#000"/>
<circle cx="327.20" cy="390.30" r="2.05" fill="#000"/>
<path d="M327.20 390.30L417.00 329.90" fill="none" stroke="#000" stroke-width="1.1"/>
<path d="M327.20 438.40L417.00 399.50" fill="none" stroke="#000" stroke-width="1.0" shape-rendering="crispEdges"/>
<path d="M327.20 438.40L417.00 434.10" fill="none" stroke="#000" stroke-width="1.0" shape-rendering="crispEdges"/>
<path d="M327.20 439.90L417.00 449.40" fill="none" stroke="#000" stroke-width="1.0" shape-rendering="crispEdges"/>
<path d="M327.20 449.10L417.00 487.10" fill="none" stroke="#000" stroke-width="1.0" shape-rendering="crispEdges"/>
<path d="M327.20 456.00L417.00 464.90" fill="none" stroke="#000" stroke-width="1.0" shape-rendering="crispEdges"/>
<path d="M327.20 472.90L417.00 457.60" fill="none" stroke="#000" stroke-width="1.0" shape-rendering="crispEdges"/>
<path d="M327.20 482.80L417.00 477.50" fill="none" stroke="#000" stroke-width="1.0" shape-rendering="crispEdges"/>
<path d="M327.20 487.00L417.00 482.10" fill="none" stroke="#000" stroke-width="1.0" shape-rendering="crispEdges"/>
<circle cx="327.20" cy="353.80" r="2.05" fill="#000"/>
<path d="M417.00 363.00L419.94 368.10L414.06 368.10Z" fill="#000"/>
<circle cx="327.20" cy="390.30" r="2.05" fill="#000"/>
<path d="M417.00 326.50L419.94 331.60L414.06 331.60Z" fill="#000"/>
<circle cx="327.20" cy="438.40" r="2.05" fill="#000"/>
<path d="M417.00 396.10L419.94 401.20L414.06 401.20Z" fill="#000"/>
<circle cx="327.20" cy="438.40" r="2.05" fill="#000"/>
<path d="M417.00 430.70L419.94 435.80L414.06 435.80Z" fill="#000"/>
<circle cx="327.20" cy="439.90" r="2.05" fill="#000"/>
<path d="M417.00 446.00L419.94 451.10L414.06 451.10Z" fill="#000"/>
<circle cx="327.20" cy="449.10" r="2.05" fill="#000"/>
<path d="M417.00 483.70L419.94 488.80L414.06 488.80Z" fill="#000"/>
<circle cx="327.20" cy="456.00" r="2.05" fill="#000"/>
<path d="M417.00 461.50L419.94 466.60L414.06 466.60Z" fill="#000"/>
<circle cx="327.20" cy="472.90" r="2.05" fill="#000"/>
<path d="M417.00 454.20L419.94 459.30L414.06 459.30Z" fill="#000"/>
<circle cx="327.20" cy="482.80" r="2.05" fill="#000"/>
<path d="M417.00 474.10L419.94 479.20L414.06 479.20Z" fill="#000"/>
<circle cx="327.20" cy="487.00" r="2.05" fill="#000"/>
<path d="M417.00 478.70L419.94 483.80L414.06 483.80Z" fill="#000"/>
<line x1="523.8" x2="523.8" y1="338.7" y2="358.4" stroke="#333" stroke-width="1.0" shape-rendering="crispEdges"/>
<line x1="523.8" x2="523.8" y1="434.0" y2="499.5" stroke="#333" stroke-width="1.0" shape-rendering="crispEdges"/>
<rect x="500.50" y="358.4" width="46.00" height="75.60" fill="#fff" stroke="#333" stroke-width="1.0" shape-rendering="crispEdges"/>
<line x1="500.50" x2="546.50" y1="422.3" y2="422.3" stroke="#222" stroke-width="2.0" shape-rendering="crispEdges"/>
<line x1="585.3" x2="585.3" y1="374.0" y2="427.5" stroke="#333" stroke-width="1.0" shape-rendering="crispEdges"/>
<line x1="585.3" x2="585.3" y1="482.1" y2="508.0" stroke="#333" stroke-width="1.0" shape-rendering="crispEdges"/>
<rect x="562.00" y="427.5" width="46.50" height="54.60" fill="#fff" stroke="#333" stroke-width="1.0" shape-rendering="crispEdges"/>
<line x1="562.00" x2="608.50" y1="460.3" y2="460.3" stroke="#222" stroke-width="2.0" shape-rendering="crispEdges"/>
<line x1="646.9" x2="646.9" y1="406.7" y2="452.2" stroke="#333" stroke-width="1.0" shape-rendering="crispEdges"/>
<line x1="646.9" x2="646.9" y1="487.4" y2="494.6" stroke="#333" stroke-width="1.0" shape-rendering="crispEdges"/>
<rect x="623.50" y="452.2" width="46.00" height="35.20" fill="#fff" stroke="#333" stroke-width="1.0" shape-rendering="crispEdges"/>
<line x1="623.50" x2="669.50" y1="482.6" y2="482.6" stroke="#222" stroke-width="2.0" shape-rendering="crispEdges"/>
<path d="M523.80 338.70L585.30 374.00" fill="none" stroke="#000" stroke-width="1.0" shape-rendering="crispEdges"/>
<path d="M523.80 358.20L585.30 427.40" fill="none" stroke="#000" stroke-width="1.1"/>
<path d="M585.30 427.40L646.90 451.70" fill="none" stroke="#000" stroke-width="1.0" shape-rendering="crispEdges"/>
<path d="M523.80 355.90L585.30 456.80" fill="none" stroke="#000" stroke-width="1.1"/>
<path d="M585.30 456.80L646.90 446.20" fill="none" stroke="#000" stroke-width="1.0" shape-rendering="crispEdges"/>
<path d="M523.80 402.30L585.30 467.90" fill="none" stroke="#000" stroke-width="1.1"/>
<path d="M585.30 467.90L646.90 487.80" fill="none" stroke="#000" stroke-width="1.0" shape-rendering="crispEdges"/>
<path d="M523.80 422.80L585.30 389.00" fill="none" stroke="#000" stroke-width="1.0" shape-rendering="crispEdges"/>
<path d="M585.30 389.00L646.90 406.70" fill="none" stroke="#000" stroke-width="1.0" shape-rendering="crispEdges"/>
<path d="M523.80 434.10L585.30 464.20" fill="none" stroke="#000" stroke-width="1.0" shape-rendering="crispEdges"/>
<path d="M585.30 464.20L646.90 465.70" fill="none" stroke="#000" stroke-width="1.0" shape-rendering="crispEdges"/>
<path d="M523.80 474.40L585.30 487.80" fill="none" stroke="#000" stroke-width="1.0" shape-rendering="crispEdges"/>
<path d="M585.30 487.80L646.90 489.80" fill="none" stroke="#000" stroke-width="1.0" shape-rendering="crispEdges"/>
<path d="M523.80 499.50L585.30 507.80" fill="none" stroke="#000" stroke-width="1.0" shape-rendering="crispEdges"/>
<path d="M585.30 507.80L646.90 494.60" fill="none" stroke="#000" stroke-width="1.0" shape-rendering="crispEdges"/>
<path d="M585.30 427.40L646.90 481.90" fill="none" stroke="#000" stroke-width="1.1"/>
<circle cx="523.80" cy="338.70" r="2.05" fill="#000"/>
<path d="M585.30 370.60L588.24 375.70L582.36 375.70Z" fill="#000"/>
<circle cx="523.80" cy="358.20" r="2.05" fill="#000"/>
<path d="M585.30 424.00L588.24 429.10L582.36 429.10Z" fill="#000"/>
<rect x="644.65" y="449.45" width="4.5" height="4.5" fill="#000"/>
<circle cx="523.80" cy="355.90" r="2.05" fill="#000"/>
<path d="M585.30 453.40L588.24 458.50L582.36 458.50Z" fill="#000"/>
<rect x="644.65" y="443.95" width="4.5" height="4.5" fill="#000"/>
<circle cx="523.80" cy="402.30" r="2.05" fill="#000"/>
<path d="M585.30 464.50L588.24 469.60L582.36 469.60Z" fill="#000"/>
<rect x="644.65" y="485.55" width="4.5" height="4.5" fill="#000"/>
<circle cx="523.80" cy="422.80" r="2.05" fill="#000"/>
<path d="M585.30 385.60L588.24 390.70L582.36 390.70Z" fill="#000"/>
<rect x="644.65" y="404.45" width="4.5" height="4.5" fill="#000"/>
<circle cx="523.80" cy="434.10" r="2.05" fill="#000"/>
<path d="M585.30 460.80L588.24 465.90L582.36 465.90Z" fill="#000"/>
<rect x="644.65" y="463.45" width="4.5" height="4.5" fill="#000"/>
<circle cx="523.80" cy="474.40" r="2.05" fill="#000"/>
<path d="M585.30 484.40L588.24 489.50L582.36 489.50Z" fill="#000"/>
<rect x="644.65" y="487.55" width="4.5" height="4.5" fill="#000"/>
<circle cx="523.80" cy="499.50" r="2.05" fill="#000"/>
<path d="M585.30 504.40L588.24 509.50L582.36 509.50Z" fill="#000"/>
<rect x="644.65" y="492.35" width="4.5" height="4.5" fill="#000"/>
<path d="M585.30 424.00L588.24 429.10L582.36 429.10Z" fill="#000"/>
<rect x="644.65" y="479.65" width="4.5" height="4.5" fill="#000"/>
<text transform="translate(160.90,63.80) scale(1,1.1)" text-anchor="middle" font-family='"Liberation Sans", sans-serif' font-size="12.8" fill="#222"><tspan font-style="italic">p</tspan>=0.03</text>
<text transform="translate(374.10,64.30) scale(1,1.12)" text-anchor="middle" font-family='"Liberation Sans", sans-serif' font-size="12.3" fill="#222">ns</text>
<text transform="translate(557.10,63.70) scale(1,1.1)" text-anchor="middle" font-family='"Liberation Sans", sans-serif' font-size="12.8" fill="#222"><tspan font-style="italic">p</tspan>=0.02</text>
<text transform="translate(616.20,64.20) scale(1,1.12)" text-anchor="middle" font-family='"Liberation Sans", sans-serif' font-size="12.3" fill="#222">ns</text>
<text transform="translate(161.30,336.00) scale(1,1.1)" text-anchor="middle" font-family='"Liberation Sans", sans-serif' font-size="12.8" fill="#222"><tspan font-style="italic">p</tspan>=0.01</text>
<text transform="translate(373.20,336.30) scale(1,1.12)" text-anchor="middle" font-family='"Liberation Sans", sans-serif' font-size="12.3" fill="#222">ns</text>
<text transform="translate(554.60,335.40) scale(1,1.1)" text-anchor="middle" font-family='"Liberation Sans", sans-serif' font-size="12.8" fill="#222"><tspan font-style="italic">p</tspan>=0.03</text>
<text transform="translate(616.90,335.80) scale(1,1.12)" text-anchor="middle" font-family='"Liberation Sans", sans-serif' font-size="12.3" fill="#222">ns</text>
<text transform="translate(162.20,17.80) scale(1,1.08)" text-anchor="middle" font-family='"Liberation Sans", sans-serif' font-weight="bold" font-size="15.5" fill="#000">Healthy controls</text>
<text transform="translate(373.50,17.80) scale(1,1.08)" text-anchor="middle" font-family='"Liberation Sans", sans-serif' font-weight="bold" font-size="15.5" fill="#000" textLength="90.8" lengthAdjust="spacingAndGlyphs">RA 0DMARD</text>
<text transform="translate(585.20,17.80) scale(1,1.08)" text-anchor="middle" font-family='"Liberation Sans", sans-serif' font-weight="bold" font-size="15.5" fill="#000">RA MTX</text>
<text transform="translate(1.5,15.3) scale(1,1.04)" font-family='"Liberation Sans", sans-serif' font-weight="bold" font-size="18.8" fill="#000">A</text>
<text transform="translate(1.9,296.2) scale(1,1.04)" font-family='"Liberation Sans", sans-serif' font-weight="bold" font-size="18.8" fill="#000">B</text>
<text transform="translate(16.30,143.80) rotate(-90)" x="0" y="0" text-anchor="middle" font-family='"Liberation Sans", sans-serif' font-weight="bold" font-size="16" fill="#000">Th17</text>
<text transform="translate(36.30,142.50) rotate(-90)" x="0" y="0" text-anchor="middle" font-family='"Liberation Sans", sans-serif' font-weight="normal" font-size="12" fill="#000">% of CD4+</text>
<text transform="translate(16.30,417.60) rotate(-90)" x="0" y="0" text-anchor="middle" font-family='"Liberation Sans", sans-serif' font-weight="bold" font-size="16" fill="#000">Th17</text>
<text transform="translate(35.0,415.9) rotate(-90)" x="0" y="0" text-anchor="middle" font-family='"Liberation Sans", sans-serif' font-size="12" fill="#000">x 10<tspan font-size="9" dy="-6.6">9</tspan><tspan dy="6.6"> cells/L</tspan></text>
</g></svg>
</body></html>
